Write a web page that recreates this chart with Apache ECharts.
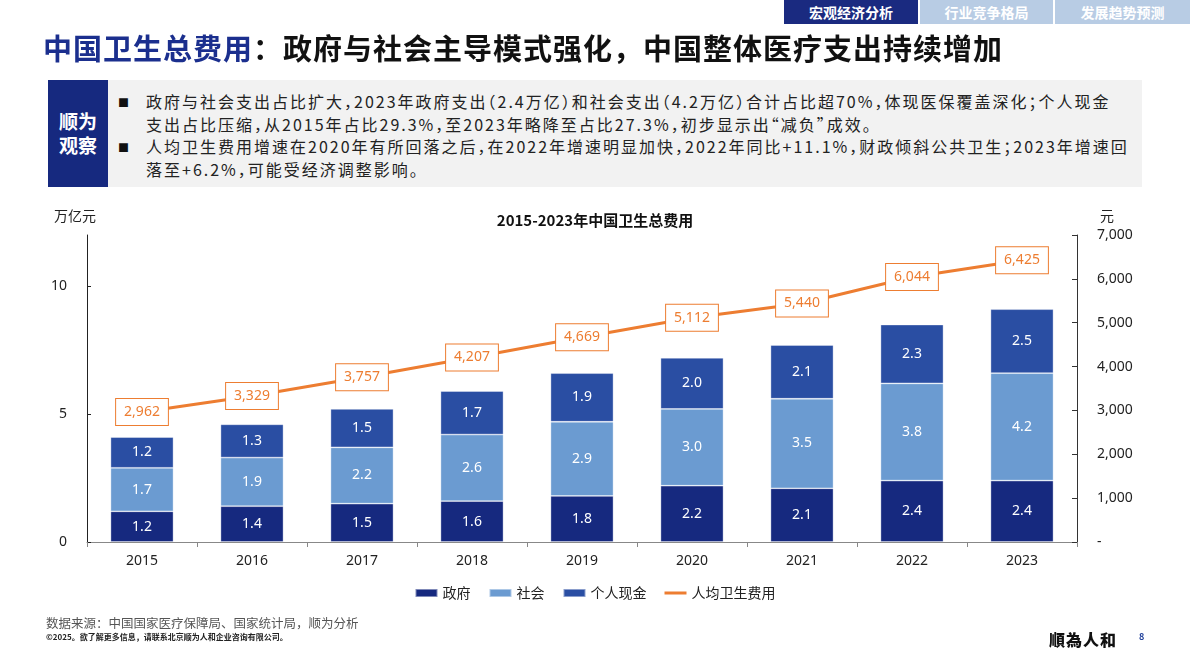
<!DOCTYPE html>
<html>
<head>
<meta charset="utf-8">
<script src="https://cdn.jsdelivr.net/npm/echarts@6/dist/echarts.min.js"></script>
<style>
  body { margin: 0; background: #fff; font-family: "Noto Sans CJK SC", sans-serif; }
  #page { position: relative; width: 1190px; height: 669px; overflow: hidden; }
  #chart { position: absolute; left: 0; top: 0; width: 1190px; height: 669px; }
  .tab { position: absolute; top: 0; height: 24px; line-height: 24px; color: #fff; font-weight: bold;
         font-size: 14px; text-align: center; background: #b8cce4; }
  .tab.on { background: #1a2a80; }
  #title { position: absolute; left: 43px; top: 27px; font-size: 29px; letter-spacing: 1px; font-weight: bold; color: #111;
           line-height: 40px; white-space: nowrap; }
  #title span { color: #1b2f8e; }
  #obs { position: absolute; left: 48px; top: 80px; width: 1094px; height: 107px; background: #f2f2f2; }
  #obs .tag { position: absolute; left: 0; top: 0; width: 60px; height: 107px; background: #16297f; color: #fff;
              font-weight: bold; font-size: 19px; line-height: 24px; text-align: center; padding-top: 29px;
              box-sizing: border-box; }
  #obs .txt { position: absolute; left: 98px; top: 10px; font-size: 16px; letter-spacing: 2px; line-height: 22.7px;
              color: #222; white-space: nowrap; font-feature-settings: "halt"; }
  #obs .b { position: absolute; left: 70px; font-size: 11px; color: #111; }
  #src { position: absolute; left: 46px; top: 613px; font-size: 12.5px; color: #555; }
  #copy { position: absolute; left: 46px; top: 631px; font-size: 8px; font-weight: bold; color: #222; }
  #logo { position: absolute; left: 1049px; top: 627px; font-size: 16px; font-weight: 900; color: #111;
          letter-spacing: 1px; font-family: "Noto Sans CJK TC", serif; }
  #pg { position: absolute; left: 1139px; top: 630px; font-size: 9px; font-weight: bold; color: #1f3f9a; }
</style>
</head>
<body>
<div id="page">
  <div id="chart"></div>
  <div class="tab on" style="left:784px;width:134px;">宏观经济分析</div>
  <div class="tab" style="left:920px;width:133px;">行业竞争格局</div>
  <div class="tab" style="left:1055px;width:135px;">发展趋势预测</div>
  <div id="title"><span>中国卫生总费用</span>：政府与社会主导模式强化，中国整体医疗支出持续增加</div>
  <div id="obs">
    <div class="tag">顺为<br>观察</div>
    <div class="b" style="top:14px;">■</div>
    <div class="b" style="top:59px;">■</div>
    <div class="txt">政府与社会支出占比扩大，2023年政府支出（2.4万亿）和社会支出（4.2万亿）合计占比超70%，体现医保覆盖深化；个人现金<br>支出占比压缩，从2015年占比29.3%，至2023年略降至占比27.3%，初步显示出“减负”成效。<br>人均卫生费用增速在2020年有所回落之后，在2022年增速明显加快，2022年同比+11.1%，财政倾斜公共卫生；2023年增速回<br>落至+6.2%，可能受经济调整影响。</div>
  </div>
  <div id="src">数据来源：中国国家医疗保障局、国家统计局，顺为分析</div>
  <div id="copy">©2025。欲了解更多信息，请联系北京顺为人和企业咨询有限公司。</div>
  <div id="logo">順為人和</div>
  <div id="pg">8</div>
</div>
<script>
var years = ['2015', '2016', '2017', '2018', '2019', '2020', '2021', '2022', '2023'];
var government = [1.2, 1.4, 1.5, 1.6, 1.8, 2.2, 2.1, 2.4, 2.4];
var society = [1.7, 1.9, 2.2, 2.6, 2.9, 3.0, 3.5, 3.8, 4.2];
var personal = [1.2, 1.3, 1.5, 1.7, 1.9, 2.0, 2.1, 2.3, 2.5];
var perCapita = [2962, 3329, 3757, 4207, 4669, 5112, 5440, 6044, 6425];
var leftTicks = [0, 5, 10];

var numFont = '"Noto Sans", "Noto Sans CJK SC", sans-serif';
var cjkFont = '"Noto Sans CJK SC", sans-serif';
var chart = echarts.init(document.getElementById('chart'));

function barSeries(name, data, color) {
    return {
        name: name,
        type: 'bar',
        stack: 'total',
        barWidth: 63,
        data: data,
        itemStyle: { color: color, borderColor: 'rgba(255,255,255,0.45)', borderWidth: 0.8 },
        label: {
            show: true,
            position: 'inside',
            color: '#fff',
            fontSize: 14,
            fontFamily: numFont,
            formatter: function (p) { return p.value.toFixed(1); }
        }
    };
}

var option = {
    animation: false,
    textStyle: { fontFamily: numFont },
    title: {
        text: '2015-2023年中国卫生总费用',
        left: 'center',
        top: 208,
        textStyle: { fontSize: 15, fontWeight: 'bold', color: '#111', fontFamily: cjkFont }
    },
    grid: { left: 87, right: 113, top: 235, bottom: 127 },
    legend: {
        bottom: 64,
        left: 'center',
        itemWidth: 22,
        itemHeight: 8,
        itemGap: 18,
        textStyle: { fontSize: 14, color: '#222', fontFamily: cjkFont },
        data: [
            { name: '政府', icon: 'rect' },
            { name: '社会', icon: 'rect' },
            { name: '个人现金', icon: 'rect' },
            { name: '人均卫生费用', icon: 'path://M0,0 L22,0 L22,3 L0,3 Z' }
        ]
    },
    xAxis: {
        type: 'category',
        data: years,
        axisLine: { lineStyle: { color: '#888' } },
        axisTick: { show: true, length: 5, lineStyle: { color: '#888' } },
        axisLabel: { fontSize: 14, color: '#222', margin: 12 }
    },
    yAxis: [
        {
            type: 'value',
            min: 0,
            max: 12,
            interval: 5,
            name: '万亿元',
            nameLocation: 'end',
            nameGap: 12,
            nameTextStyle: { fontSize: 14, color: '#222', padding: [0, 24, 0, 0], fontFamily: cjkFont },
            axisLine: { show: true, lineStyle: { color: '#222' } },
            axisTick: { show: true, inside: true, length: 4, customValues: leftTicks, lineStyle: { color: '#222' } },
            axisLabel: { fontSize: 14, color: '#222', margin: 20, customValues: leftTicks },
            splitLine: { show: false }
        },
        {
            type: 'value',
            min: 0,
            max: 7000,
            interval: 1000,
            position: 'right',
            name: '元',
            nameLocation: 'end',
            nameGap: 12,
            nameTextStyle: { fontSize: 14, color: '#222', padding: [0, 0, 0, 60], fontFamily: cjkFont },
            axisLine: { show: true, lineStyle: { color: '#333' } },
            axisTick: { show: true, inside: true, length: 5, lineStyle: { color: '#333' } },
            axisLabel: {
                fontSize: 14,
                color: '#222',
                margin: 20,
                formatter: function (v) { return v === 0 ? '-' : v.toLocaleString('en-US'); }
            },
            splitLine: { show: false }
        }
    ],
    series: [
        barSeries('政府', government, '#16297f'),
        barSeries('社会', society, '#6b9bd1'),
        barSeries('个人现金', personal, '#2a4ea3'),
        {
            name: '人均卫生费用',
            type: 'line',
            yAxisIndex: 1,
            data: perCapita,
            symbol: 'circle',
            symbolSize: 1,
            z: 5,
            itemStyle: { color: '#ed7d31' },
            lineStyle: { color: '#ed7d31', width: 3 },
            label: {
                show: true,
                position: 'inside',
                color: '#ed7d31',
                fontSize: 14,
                fontFamily: numFont,
                backgroundColor: '#fff',
                borderColor: '#ed7d31',
                borderWidth: 1,
                padding: [6, 8],
                formatter: function (p) { return p.value.toLocaleString('en-US'); }
            }
        }
    ]
};

option && chart.setOption(option);
</script>
</body>
</html>
